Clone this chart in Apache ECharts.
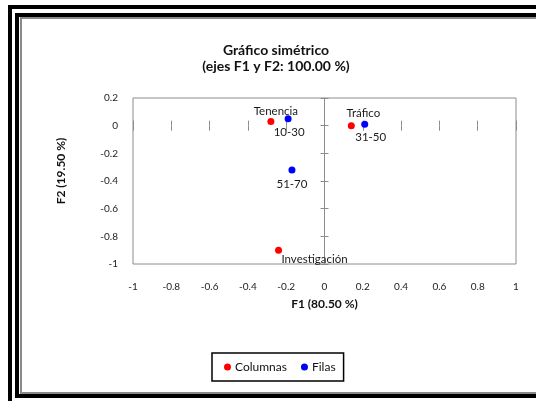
<!DOCTYPE html>
<html>
<head>
<meta charset="utf-8">
<script src="https://cdn.jsdelivr.net/npm/echarts@6/dist/echarts.min.js"></script>
<style>
html,body{margin:0;padding:0;background:#fff;}
#chart{width:536px;height:401px;}
</style>
</head>
<body>
<div id="chart"></div>
<script>
// ---- data ----
const columnLabels = ['Tenencia', 'Tráfico', 'Investigación'];
const columnF1 = [-0.28, 0.14, -0.24];
const columnF2 = [0.03, 0.00, -0.90];
const rowLabels = ['10-30', '31-50', '51-70'];
const rowF1 = [-0.19, 0.21, -0.17];
const rowF2 = [0.05, 0.01, -0.32];
const xTicks = [-1, -0.8, -0.6, -0.4, -0.2, 0, 0.2, 0.4, 0.6, 0.8, 1];
const yTicks = [-1, -0.8, -0.6, -0.4, -0.2, 0, 0.2];

// ---- label placement (style only) ----
const columnLabelOffsets = [[5, -10], [12, -12], [36, 9]];
const rowLabelOffsets = [[1, 14], [6, 13], [0, 14]];

const FONT = 'Lato';
const xMin = xTicks[0], xMax = xTicks[xTicks.length - 1];
const yMin = yTicks[0], yMax = yTicks[yTicks.length - 1];

function buildData(xs, ys, names, offsets) {
  return xs.map((x, i) => ({
    value: [x, ys[i]],
    name: names[i],
    label: { offset: offsets[i] }
  }));
}

const baseX = { type: 'value', min: xMin, max: xMax, interval: 0.2, splitLine: { show: false } };
const baseY = { type: 'value', min: yMin, max: yMax, interval: 0.2, splitLine: { show: false } };
const fmt = v => String(Math.round(v * 10) / 10);

const chart = echarts.init(document.getElementById('chart'), null, { renderer: 'canvas' });
chart.setOption({
  backgroundColor: '#ffffff',
  animation: false,
  textStyle: { fontFamily: FONT },
  title: {
    text: 'Gráfico simétrico\n(ejes F1 y F2: 100.00 %)',
    left: 271, top: 37, textAlign: 'center',
    textStyle: { fontFamily: FONT, fontSize: 14, fontWeight: 'bold', lineHeight: 16, color: '#111' }
  },
  legend: {
    left: 212, top: 353,
    padding: [8, 8, 8, 12],
    borderColor: '#000', borderWidth: 1.5,
    itemWidth: 7, itemHeight: 7, itemGap: 14,
    icon: 'circle',
    textStyle: { fontFamily: FONT, fontSize: 12, color: '#111', padding: [0, 0, 0, -1] },
    data: ['Columnas', 'Filas']
  },
  grid: {
    left: 133, top: 98, width: 383, height: 166,
    show: true, borderColor: '#8c8c8c', borderWidth: 1, backgroundColor: 'transparent',
    containLabel: false, outerBoundsMode: 'none'
  },
  xAxis: [
    Object.assign({}, baseX, {
      position: 'bottom',
      axisLine: { show: false, onZero: false },
      axisTick: { show: false },
      axisLabel: { margin: 18, fontSize: 10, color: '#222', fontFamily: FONT, formatter: fmt },
      name: 'F1 (80.50 %)', nameLocation: 'middle', nameGap: 34,
      nameTextStyle: { fontFamily: FONT, fontSize: 12, fontWeight: 'bold', color: '#111' }
    }),
    Object.assign({}, baseX, {
      position: 'bottom',
      axisLine: { show: false, onZero: true, onZeroAxisIndex: 0 },
      axisTick: { show: true, length: 5, inside: false, lineStyle: { color: '#8c8c8c' } },
      axisLabel: { show: false }
    }),
    Object.assign({}, baseX, {
      position: 'bottom',
      axisLine: { show: false, onZero: true, onZeroAxisIndex: 0 },
      axisTick: { show: true, length: 5, inside: true, lineStyle: { color: '#8c8c8c' } },
      axisLabel: { show: false }
    })
  ],
  yAxis: [
    Object.assign({}, baseY, {
      position: 'left',
      axisLine: { show: false, onZero: false },
      axisTick: { show: false },
      axisLabel: { margin: 15, fontSize: 10, color: '#222', fontFamily: FONT, formatter: fmt },
      name: 'F2 (19.50 %)', nameLocation: 'middle', nameGap: 66, nameRotate: 90,
      nameTextStyle: { fontFamily: FONT, fontSize: 12, fontWeight: 'bold', color: '#111', padding: [0, 0, 0, 20] }
    }),
    Object.assign({}, baseY, {
      position: 'left',
      axisLine: { show: true, onZero: true, onZeroAxisIndex: 0, lineStyle: { color: '#8c8c8c', width: 1 } },
      axisTick: { show: true, length: 4, inside: false, lineStyle: { color: '#8c8c8c' } },
      axisLabel: { show: false }
    }),
    Object.assign({}, baseY, {
      position: 'left',
      axisLine: { show: false, onZero: true, onZeroAxisIndex: 0 },
      axisTick: { show: true, length: 4, inside: true, lineStyle: { color: '#8c8c8c' } },
      axisLabel: { show: false }
    })
  ],
  graphic: [
    { type: 'rect', silent: true, z: 100, shape: { x: 10, y: 7, width: 700, height: 700 },
      style: { fill: 'none', stroke: '#000', lineWidth: 4 } },
    { type: 'rect', silent: true, z: 100, shape: { x: 17, y: 15, width: 700, height: 381 },
      style: { fill: 'none', stroke: '#000', lineWidth: 4 } },
    { type: 'rect', silent: true, z: 100, shape: { x: 21, y: 18, width: 700, height: 375 },
      style: { fill: 'none', stroke: '#8a8a8a', lineWidth: 2 } }
  ],
  series: [
    {
      name: 'Columnas', type: 'scatter', xAxisIndex: 0, yAxisIndex: 0,
      symbol: 'circle', symbolSize: 7,
      itemStyle: { color: '#ff0000', opacity: 1 },
      label: { show: true, position: 'inside', formatter: p => p.name, fontFamily: FONT, fontSize: 11.5, color: '#1a1a1a' },
      data: buildData(columnF1, columnF2, columnLabels, columnLabelOffsets)
    },
    {
      name: 'Filas', type: 'scatter', xAxisIndex: 0, yAxisIndex: 0,
      symbol: 'circle', symbolSize: 7,
      itemStyle: { color: '#0000ff', opacity: 1 },
      label: { show: true, position: 'inside', formatter: p => p.name, fontFamily: FONT, fontSize: 11.5, color: '#1a1a1a' },
      data: buildData(rowF1, rowF2, rowLabels, rowLabelOffsets)
    }
  ]
});
</script>
</body>
</html>
